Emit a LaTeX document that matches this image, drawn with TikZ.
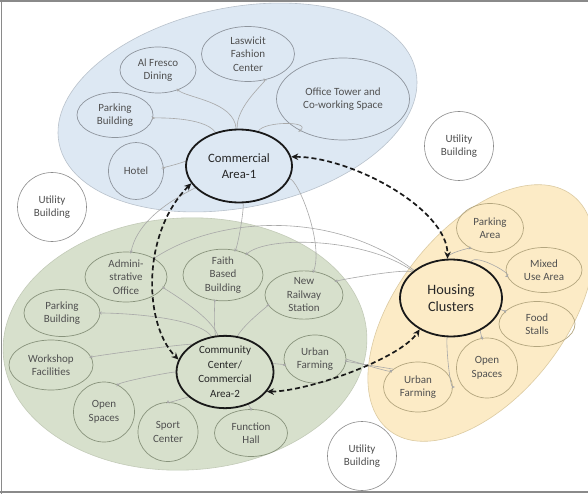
\documentclass[tikz,border=0pt]{standalone}
\usepackage{fontspec}
\setmainfont{Carlito}
\usetikzlibrary{shapes.geometric,arrows.meta}
\definecolor{bluefill}{HTML}{DDE8F3}
\definecolor{greenfill}{HTML}{D7E0CC}
\definecolor{yellowfill}{HTML}{FCEBC6}
\definecolor{blueedge}{HTML}{B9C2CC}
\definecolor{greenedge}{HTML}{C3CBB8}
\definecolor{yellowedge}{HTML}{DCCBA2}
\definecolor{bsub}{HTML}{8E959D}
\definecolor{gsub}{HTML}{88937C}
\definecolor{ysub}{HTML}{B4A67F}
\definecolor{txtgray}{HTML}{505050}
\definecolor{conngray}{HTML}{A8A8A8}
\definecolor{framegray}{HTML}{8A8A8A}
\newcommand\subfnt{\fontsize{11}{13.5}\selectfont}
\tikzset{
  region/.style={ellipse, inner sep=0pt, line width=0.6pt},
  subnode/.style={ellipse, inner sep=0pt, align=center, line width=0.7pt, font=\subfnt, text=txtgray},
  bsubnode/.style={subnode, draw=bsub},
  gsubnode/.style={subnode, draw=gsub},
  ysubnode/.style={subnode, draw=ysub},
  utility/.style={circle, draw=framegray, fill=white, line width=0.6pt, inner sep=0pt, minimum size=69pt, align=center, font=\subfnt, text=txtgray},
  hub/.style={ellipse, draw=black!90, line width=1.8pt, inner sep=0pt, align=center, text=black!85},
  conn/.style={draw=conngray, line width=0.6pt, shorten >=-2pt, -{Stealth[length=3.5pt,width=3pt]}},
  dasharrow/.style={draw=black!90, line width=1.7pt, dash pattern=on 5pt off 3pt, {Stealth[length=7pt,width=6.5pt]}-{Stealth[length=7pt,width=6.5pt]}}
}
\begin{document}
\begin{tikzpicture}[x=1pt,y=-1pt]
\useasboundingbox (0,0) rectangle (588,494);
\fill[white] (0,0) rectangle (588,494);
% regions
\node[region, draw=blueedge, fill=bluefill, minimum width=364pt, minimum height=200pt, rotate=11.4] (blue) at (237.5,107.5) {};
\node[region, draw=greenedge, fill=greenfill, minimum width=364pt, minimum height=252pt, rotate=3] (green) at (185,344) {};
\node[region, draw=yellowedge, fill=yellowfill, minimum width=298pt, minimum height=168pt, rotate=52] (yellow) at (481,313) {};
% utility buildings
\node[utility] (ut1) at (52,207) {Utility\\Building};
\node[utility] (ut2) at (459,146) {Utility\\Building};
\node[utility] (ut3) at (362,456) {Utility\\Building};
% blue sub nodes
\node[bsubnode, minimum width=93pt, minimum height=55pt] (lasw) at (248,54) {Laswicit\\Fashion\\Center};
\node[bsubnode, minimum width=76pt, minimum height=46pt] (alf) at (158,70) {Al Fresco\\Dining};
\node[bsubnode, minimum width=76pt, minimum height=45pt] (pbone) at (115,115) {Parking\\Building};
\node[bsubnode, minimum width=55pt, minimum height=57pt] (hotel) at (136,171) {Hotel};
\node[bsubnode, minimum width=133pt, minimum height=82pt] (office) at (343,99) {Office Tower and\\Co-working Space};
% green sub nodes
\node[gsubnode, minimum width=82pt, minimum height=50pt] (admin) at (126,277) {Admini-\\strative\\Office};
\node[gsubnode, minimum width=80pt, minimum height=47pt] (faith) at (223,275) {Faith\\Based\\Building};
\node[gsubnode, minimum width=78pt, minimum height=47pt] (rail) at (304,295) {New\\Railway\\Station};
\node[gsubnode, minimum width=76pt, minimum height=47pt] (pbtwo) at (62,313) {Parking\\Building};
\node[gsubnode, minimum width=84pt, minimum height=50pt] (work) at (51,365) {Workshop\\Facilities};
\node[gsubnode, minimum width=61pt, minimum height=60pt] (openone) at (104,412) {Open\\Spaces};
\node[gsubnode, minimum width=60pt, minimum height=59pt] (sport) at (168,432) {Sport\\Center};
\node[gsubnode, minimum width=73pt, minimum height=47pt] (func) at (251,433) {Function\\Hall};
\node[gsubnode, minimum width=62pt, minimum height=48pt] (ufone) at (315,359) {Urban\\Farming};
% yellow sub nodes
\node[ysubnode, minimum width=67pt, minimum height=49pt] (parka) at (490,228) {Parking\\Area};
\node[ysubnode, minimum width=76pt, minimum height=45pt] (mixed) at (544,270) {Mixed\\Use Area};
\node[ysubnode, minimum width=76pt, minimum height=45pt] (food) at (537,324) {Food\\Stalls};
\node[ysubnode, minimum width=61pt, minimum height=60pt] (opentwo) at (487,368) {Open\\Spaces};
\node[ysubnode, minimum width=69pt, minimum height=50pt] (uftwo) at (418,387) {Urban\\Farming};
% hub placeholders (for connector clipping)
\path (239,166) coordinate (ca1c) (225,372) coordinate (ccc) (451,298) coordinate (hcc);
\node[hub, draw=none, minimum width=106pt, minimum height=73pt] (ca1) at (ca1c) {};
\node[hub, draw=none, minimum width=97pt, minimum height=65pt] (cc) at (ccc) {};
\node[hub, draw=none, minimum width=102pt, minimum height=77pt] (hc) at (hcc) {};
% gray connectors: blue
\draw[conn] (ca1) .. controls +(-5,-65) and +(28,28) .. (alf);
\draw[conn] (ca1) .. controls +(-3,-60) and +(18,28) .. (lasw);
\draw[conn] (ca1) .. controls +(-35,-50) and +(38,3) .. (pbone);
\draw[conn] (ca1) .. controls +(-25,-8) and +(18,-2) .. (hotel);
\draw[conn] (ca1) .. controls +(25,-45) and +(-30,22) .. (office);
% gray connectors: green
\draw[conn] (cc) .. controls +(-10,-55) and +(35,10) .. (admin);
\draw[conn] (cc) .. controls +(-12,-45) and +(-8,25) .. (faith);
\draw[conn] (cc) .. controls +(15,-45) and +(-35,10) .. (rail);
\draw[conn] (cc) .. controls +(-20,-55) and +(60,0) .. (pbtwo);
\draw[conn] (cc) .. controls +(-30,-30) and +(50,-10) .. (work);
\draw[conn] (cc) .. controls +(-55,0) and +(15,-30) .. (openone);
\draw[conn] (cc) .. controls +(-25,20) and +(0,-28) .. (sport);
\draw[conn] (cc) .. controls +(20,28) and +(0,-25) .. (func);
\draw[conn] (cc) .. controls +(30,-8) and +(-25,5) .. (ufone);
% gray connectors: yellow
\draw[conn] (hc) .. controls +(-5,-45) and +(-20,20) .. (parka);
\draw[conn] (hc) .. controls +(25,-45) and +(-30,5) .. (mixed);
\draw[conn] (hc) .. controls +(45,10) and +(-30,-12) .. (food);
\draw[conn] (hc) .. controls +(25,22) and +(-5,-30) .. (opentwo);
\draw[conn] (hc) .. controls +(-5,50) and +(32,0) .. (uftwo);
\draw[conn] (ufone) .. controls +(30,0) and +(-20,-12) .. (uftwo);
\draw[conn] (uftwo) .. controls +(-25,-18) and +(28,2) .. (ufone);
% gray connectors: across regions
\draw[conn] (ca1) .. controls +(-80,40) and +(10,-50) .. (admin);
\draw[conn] (ca1) .. controls +(5,45) and +(15,-30) .. (faith);
\draw[conn] (ca1) .. controls +(60,15) and +(20,-50) .. (rail);
\draw[conn] (hc) .. controls +(-120,-90) and +(90,-60) .. (admin);
\draw[conn] (hc) .. controls +(-85,-60) and +(45,-40) .. (faith);
\draw[conn] (hc) .. controls +(-45,-30) and +(35,-15) .. (rail);
% hubs
\node[hub, fill=bluefill, minimum width=106pt, minimum height=73pt, font=\fontsize{12.7}{16}\selectfont] (ca1v) at (ca1c) {Commercial\\Area-1};
\node[hub, fill=greenfill, minimum width=97pt, minimum height=65pt, font=\fontsize{11}{14.5}\selectfont] (ccv) at (ccc) {Community\\Center/\\Commercial\\Area-2};
\node[hub, fill=yellowfill, minimum width=102pt, minimum height=77pt, font=\fontsize{14.3}{17}\selectfont] (hcv) at (hcc) {Housing\\Clusters};
% dashed double arrows
\draw[dasharrow] (ca1v.10) .. controls +(60,0) and +(0,-50) .. (hcv.95);
\draw[dasharrow] (ca1v.200) .. controls +(-50,50) and +(-35,-35) .. (ccv.165);
\draw[dasharrow] (ccv.-25) .. controls +(40,0) and +(-20,30) .. (hcv.225);
% frame
\draw[framegray, line width=2pt] (0,1) -- (588,1);
\draw[framegray, line width=1.2pt] (1.5,0) -- (1.5,494);
\draw[framegray, line width=2pt] (0,492) -- (588,492);
\end{tikzpicture}
\end{document}
